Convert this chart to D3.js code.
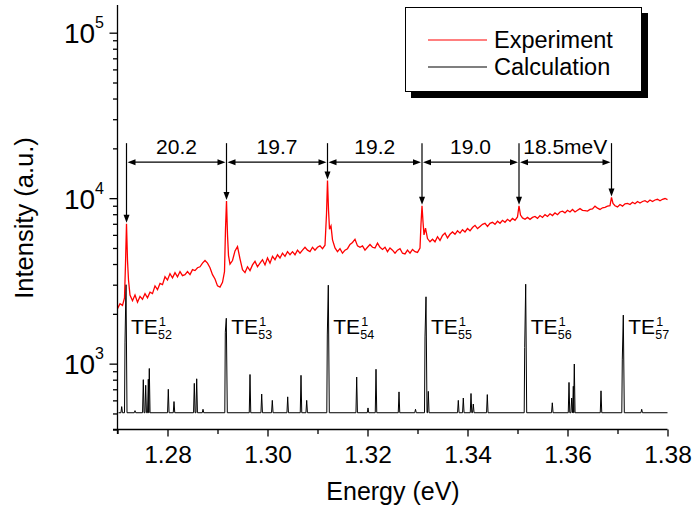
<!DOCTYPE html>
<html>
<head>
<meta charset="utf-8">
<script src="https://cdn.jsdelivr.net/npm/d3@7"></script>
<style>
body { margin: 0; background: #fff; }
svg { display: block; font-family: Arial, "Liberation Sans", sans-serif; }
</style>
</head>
<body>
<svg width="696" height="516"></svg>
<script>
// measured spectrum, [energy (eV), intensity]
var experiment = [
  [1.2700, 2150], [1.2705, 2300], [1.2710, 2250], [1.2714, 2500], [1.2716, 4000], [1.2718, 7000],
  [1.2720, 4200], [1.2722, 3200], [1.2725, 2600], [1.2730, 2400], [1.2735, 2600], [1.2740, 2350],
  [1.2745, 2550], [1.2750, 2450], [1.2755, 2650], [1.2760, 2500], [1.2765, 2700], [1.2770, 2650],
  [1.2775, 2950], [1.2780, 2800], [1.2785, 3050], [1.2790, 3000], [1.2795, 3350], [1.2800, 3200],
  [1.2805, 3500], [1.2810, 3300], [1.2815, 3550], [1.2820, 3350], [1.2825, 3600], [1.2830, 3400],
  [1.2835, 3450], [1.2840, 3600], [1.2845, 3450], [1.2850, 3700], [1.2855, 3650], [1.2860, 3800],
  [1.2865, 3850], [1.2870, 4050], [1.2875, 4200], [1.2880, 4050], [1.2885, 3800], [1.2890, 3450],
  [1.2895, 3250], [1.2900, 2950], [1.2905, 2900], [1.2910, 3100], [1.2914, 3600], [1.2916, 6500],
  [1.2918, 9600], [1.2920, 6000], [1.2922, 4500], [1.2925, 4000], [1.2930, 4200], [1.2935, 4800],
  [1.2940, 5100], [1.2945, 4300], [1.2950, 3700], [1.2955, 3550], [1.2960, 3850], [1.2965, 3650],
  [1.2970, 3950], [1.2975, 4150], [1.2980, 3850], [1.2985, 4050], [1.2990, 4250], [1.2995, 3950],
  [1.3000, 4350], [1.3005, 4050], [1.3010, 4450], [1.3015, 4250], [1.3020, 4550], [1.3025, 4350],
  [1.3030, 4650], [1.3035, 4450], [1.3040, 4750], [1.3045, 4550], [1.3050, 4750], [1.3055, 4550],
  [1.3060, 4850], [1.3065, 4650], [1.3070, 4850], [1.3075, 5050], [1.3080, 4850], [1.3085, 4750],
  [1.3090, 5050], [1.3095, 4850], [1.3100, 5050], [1.3105, 5150], [1.3110, 4950], [1.3115, 5200],
  [1.3118, 8000], [1.3120, 12800], [1.3122, 8500], [1.3124, 6500], [1.3127, 6800], [1.3130, 5600],
  [1.3135, 5000], [1.3140, 4750], [1.3145, 4950], [1.3150, 4650], [1.3155, 4850], [1.3160, 4950],
  [1.3165, 5250], [1.3170, 5400], [1.3175, 5650], [1.3180, 5150], [1.3185, 5050], [1.3190, 5150],
  [1.3195, 4850], [1.3200, 5050], [1.3205, 5250], [1.3210, 5050], [1.3215, 5000], [1.3220, 5350],
  [1.3225, 5050], [1.3230, 4900], [1.3235, 5050], [1.3240, 4750], [1.3245, 5000], [1.3250, 4850],
  [1.3255, 4650], [1.3260, 4850], [1.3265, 4950], [1.3270, 4650], [1.3275, 4600], [1.3280, 4850],
  [1.3285, 4650], [1.3290, 4900], [1.3295, 4750], [1.3300, 4700], [1.3305, 5000], [1.3307, 7000],
  [1.3309, 9000], [1.3311, 7200], [1.3313, 6000], [1.3316, 6600], [1.3320, 5700], [1.3325, 5450],
  [1.3330, 5650], [1.3335, 5450], [1.3340, 5850], [1.3345, 5550], [1.3350, 5950], [1.3355, 6150],
  [1.3360, 5750], [1.3365, 6050], [1.3370, 6250], [1.3375, 6050], [1.3380, 6350], [1.3385, 6150],
  [1.3390, 6450], [1.3395, 6250], [1.3400, 6550], [1.3405, 6350], [1.3410, 6650], [1.3415, 6850],
  [1.3420, 6550], [1.3425, 6750], [1.3430, 6950], [1.3435, 7050], [1.3440, 6750], [1.3445, 7050],
  [1.3450, 7150], [1.3455, 6950], [1.3460, 7250], [1.3465, 7050], [1.3470, 7350], [1.3475, 7150],
  [1.3480, 7450], [1.3485, 7250], [1.3490, 7550], [1.3495, 7350], [1.3500, 7700], [1.3503, 9000],
  [1.3506, 7900], [1.3510, 7600], [1.3515, 7450], [1.3520, 7650], [1.3525, 7450], [1.3530, 7650],
  [1.3535, 7750], [1.3540, 7550], [1.3545, 7850], [1.3550, 7650], [1.3555, 7950], [1.3560, 7750],
  [1.3565, 8050], [1.3570, 7850], [1.3575, 8150], [1.3580, 7950], [1.3585, 8250], [1.3590, 8350],
  [1.3595, 8150], [1.3600, 8450], [1.3605, 8250], [1.3610, 8550], [1.3615, 8250], [1.3620, 8450],
  [1.3625, 8650], [1.3630, 8450], [1.3635, 8400], [1.3640, 8350], [1.3645, 8550], [1.3650, 8600],
  [1.3655, 8950], [1.3660, 8700], [1.3665, 8550], [1.3670, 8750], [1.3675, 8800], [1.3680, 8950],
  [1.3685, 9000], [1.3688, 10100], [1.3691, 9300], [1.3695, 9000], [1.3700, 8850], [1.3705, 9150],
  [1.3710, 8950], [1.3715, 9250], [1.3720, 9300], [1.3725, 9150], [1.3730, 9450], [1.3735, 9250],
  [1.3740, 9550], [1.3745, 9350], [1.3750, 9550], [1.3755, 9650], [1.3760, 9450], [1.3765, 9750],
  [1.3770, 9550], [1.3775, 9750], [1.3780, 9850], [1.3785, 9650], [1.3790, 9850], [1.3795, 9950],
  [1.3800, 9800]
];

// calculated stick spectrum: line energies, heights, and lower shoulder (0 = none)
var calcBase = 505;
var calcStart = 1.2702;
var calcEnd = 1.3800;
var calcEnergy = [1.27084, 1.2717, 1.2735, 1.27516, 1.27564, 1.27616, 1.27636, 1.28016, 1.2813,
  1.28536, 1.28584, 1.2871, 1.29176, 1.2965, 1.29884, 1.30096, 1.30404, 1.3067, 1.30784,
  1.31216, 1.31784, 1.3201, 1.3217, 1.3263, 1.3296, 1.3317, 1.33216, 1.33816, 1.33916, 1.3407,
  1.34116, 1.34396, 1.35164, 1.35696, 1.3603, 1.36084, 1.36116, 1.36136, 1.3667, 1.37116, 1.37484];
var calcHeight = [550, 3000, 520, 800, 740, 805, 935, 700, 590,
  760, 810, 530, 1880, 860, 655, 600, 630, 850, 600,
  2980, 830, 540, 925, 675, 530, 2535, 680, 600, 620, 660,
  570, 650, 3020, 580, 770, 620, 730, 995, 685, 1965, 530];
var calcShoulder = [0, 1350, 0, 0, 0, 0, 0, 0, 0,
  0, 0, 0, 1550, 0, 0, 0, 0, 0, 0,
  1490, 0, 0, 0, 0, 0, 1450, 0, 0, 0, 0,
  0, 0, 1250, 0, 0, 0, 0, 0, 0, 1065, 0];

// TE mode labels on the calculated peaks
var modeEnergy = [1.2717, 1.29176, 1.31216, 1.3317, 1.35164, 1.37116];
var modeIndex = ["52", "53", "54", "55", "56", "57"];

// spacing arrows on the measured peaks
var spacingEnergy = [1.2718, 1.2918, 1.3120, 1.3309, 1.3503, 1.3688];
var spacingPeak = [7000, 9600, 12800, 9000, 9000, 10100];
var spacingLabels = ["20.2", "19.7", "19.2", "19.0", "18.5meV"];

var xTicks = [1.28, 1.30, 1.32, 1.34, 1.36, 1.38];
var xMinor = [1.27, 1.29, 1.31, 1.33, 1.35, 1.37];
var yTicks = [1e3, 1e4, 1e5];

var svg = d3.select("svg");

var x = d3.scaleLinear().domain([1.27, 1.38]).range([117.5, 667.5]);
var y = d3.scaleLog().domain([400, 147000]).range([429.5, 5]);

var yMinor = [];
[100, 1000, 10000].forEach(function(dec) {
  for (var k = 2; k <= 9; k++) {
    var v = dec * k;
    if (v >= 400 && v <= 147000) yMinor.push(v);
  }
});

// ---- calculated spectrum
var calcPts = [[calcStart, calcBase]];
calcEnergy.forEach(function(e, i) {
  if (calcShoulder[i] > 0) {
    calcPts.push([e - 0.0003, calcBase], [e - 0.0002, calcShoulder[i]], [e, calcHeight[i]], [e + 0.0002, calcBase]);
  } else {
    calcPts.push([e - 0.00015, calcBase], [e, calcHeight[i]], [e + 0.00015, calcBase]);
  }
});
calcPts.push([calcEnd, calcBase]);

var line = d3.line()
  .x(function(d) { return x(d[0]); })
  .y(function(d) { return y(d[1]); });

svg.append("path")
  .datum(calcPts)
  .attr("d", line)
  .attr("fill", "none")
  .attr("stroke", "#000")
  .attr("stroke-width", 1);

svg.append("path")
  .datum(experiment)
  .attr("d", line)
  .attr("fill", "none")
  .attr("stroke", "#ff0000")
  .attr("stroke-width", 1.3);

// ---- axes
var xAxis = svg.append("g")
  .attr("transform", "translate(0,429.5)")
  .call(d3.axisBottom(x).tickValues(xTicks).tickSize(7).tickFormat(d3.format(".2f")));
xAxis.select(".domain").remove();
xAxis.selectAll("line").attr("stroke-width", 1.3);
xAxis.selectAll("text")
  .attr("y", 33).attr("dy", 0)
  .attr("font-size", 24.5)
  .attr("font-family", "Arial, 'Liberation Sans', sans-serif")
  .attr("fill", "#000");

var xAxisMinor = svg.append("g")
  .attr("transform", "translate(0,429.5)")
  .call(d3.axisBottom(x).tickValues(xMinor).tickSize(4.5).tickFormat(""));
xAxisMinor.select(".domain").remove();
xAxisMinor.selectAll("line").attr("stroke-width", 1.3);

var yAxis = svg.append("g")
  .attr("transform", "translate(117.5,0)")
  .call(d3.axisLeft(y).tickValues(yTicks).tickSize(8).tickFormat(""));
yAxis.select(".domain").remove();
yAxis.selectAll("line").attr("stroke-width", 1.3);

var yAxisMinor = svg.append("g")
  .attr("transform", "translate(117.5,0)")
  .call(d3.axisLeft(y).tickValues(yMinor).tickSize(4.5).tickFormat(""));
yAxisMinor.select(".domain").remove();
yAxisMinor.selectAll("line").attr("stroke-width", 1.3);

svg.append("line")
  .attr("x1", 113).attr("x2", 667.5)
  .attr("y1", 429.5).attr("y2", 429.5)
  .attr("stroke", "#000").attr("stroke-width", 1.3);
svg.append("line")
  .attr("x1", 117.5).attr("x2", 117.5)
  .attr("y1", 5).attr("y2", 434)
  .attr("stroke", "#000").attr("stroke-width", 1.3);

var yLab = svg.append("g").selectAll("text")
  .data(yTicks).enter().append("text")
  .attr("x", 104)
  .attr("y", function(d) { return y(d) + 10.5; })
  .attr("text-anchor", "end")
  .attr("font-size", 28);
yLab.append("tspan").text("10");
yLab.append("tspan")
  .attr("font-size", 16)
  .attr("dy", -15)
  .text(function(d) { return Math.round(Math.log10(d)); });

svg.append("text")
  .attr("x", 393).attr("y", 500)
  .attr("text-anchor", "middle")
  .attr("font-size", 25)
  .text("Energy (eV)");

svg.append("text")
  .attr("transform", "translate(33,218) rotate(-90)")
  .attr("text-anchor", "middle")
  .attr("font-size", 25.5)
  .text("Intensity (a.u.)");

// ---- TE labels (one text each: TE, superscript 1, subscript index)
var te = svg.append("g").selectAll("text")
  .data(modeEnergy).enter().append("text")
  .attr("x", function(d) { return x(d) + 5; })
  .attr("y", 334)
  .attr("font-size", 21);
te.append("tspan").text("TE");
te.append("tspan")
  .attr("x", function(d) { return x(d) + 33; })
  .attr("y", 326)
  .attr("font-size", 12.5)
  .text("1");
te.append("tspan")
  .attr("x", function(d) { return x(d) + 32; })
  .attr("y", 338.5)
  .attr("font-size", 12.5)
  .text(function(d, i) { return modeIndex[i]; });

// ---- spacing arrows
var annTop = y(21500);
var annLevel = y(16500);
var ann = svg.append("g");
spacingEnergy.forEach(function(e, i) {
  var px = x(e);
  var tip = y(spacingPeak[i]) - 1;
  ann.append("line")
    .attr("x1", px).attr("x2", px)
    .attr("y1", annTop).attr("y2", tip - 4)
    .attr("stroke", "#000").attr("stroke-width", 1.2);
  ann.append("path")
    .attr("d", "M" + px + "," + tip + "L" + (px - 3) + "," + (tip - 8) + "L" + (px + 3) + "," + (tip - 8) + "Z")
    .attr("fill", "#000");
});
spacingLabels.forEach(function(lab, i) {
  var x0 = x(spacingEnergy[i]) + 1;
  var x1 = x(spacingEnergy[i + 1]) - 1;
  ann.append("line")
    .attr("x1", x0 + 4).attr("x2", x1 - 4)
    .attr("y1", annLevel).attr("y2", annLevel)
    .attr("stroke", "#000").attr("stroke-width", 1.2);
  ann.append("path")
    .attr("d", "M" + x0 + "," + annLevel + "L" + (x0 + 8) + "," + (annLevel - 3) + "L" + (x0 + 8) + "," + (annLevel + 3) + "Z" +
      "M" + x1 + "," + annLevel + "L" + (x1 - 8) + "," + (annLevel - 3) + "L" + (x1 - 8) + "," + (annLevel + 3) + "Z")
    .attr("fill", "#000");
  ann.append("text")
    .attr("x", (x0 + x1) / 2)
    .attr("y", annLevel - 8)
    .attr("text-anchor", "middle")
    .attr("font-size", 21)
    .text(lab);
});

// ---- legend
var legend = svg.append("g");
legend.append("rect")
  .attr("x", 411).attr("y", 13).attr("width", 237).attr("height", 85)
  .attr("fill", "#000");
legend.append("rect")
  .attr("x", 405.5).attr("y", 7.5).attr("width", 236).attr("height", 84)
  .attr("fill", "#fff").attr("stroke", "#000").attr("stroke-width", 1);
var legendItems = [["Experiment", "#ff0000", 40], ["Calculation", "#000", 67]];
legendItems.forEach(function(it) {
  legend.append("line")
    .attr("x1", 428).attr("x2", 487)
    .attr("y1", it[2]).attr("y2", it[2])
    .attr("stroke", it[1]).attr("stroke-width", 1.2);
  legend.append("text")
    .attr("x", 494).attr("y", it[2] + 8)
    .attr("font-size", 23.5)
    .text(it[0]);
});
</script>
</body>
</html>
